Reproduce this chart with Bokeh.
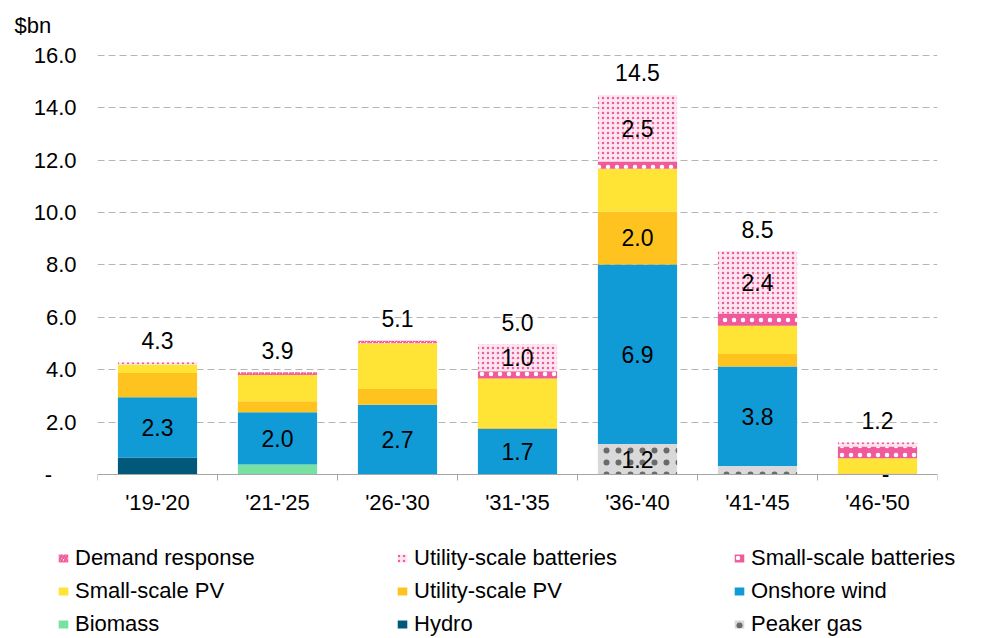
from bokeh.plotting import figure
from bokeh.layouts import column
from bokeh.models import (ColumnDataSource, Range1d, FixedTicker, LinearAxis, Legend,
                          LegendItem, PrintfTickFormatter, Grid)
from bokeh.core.properties import value
from bokeh.embed import file_html
from bokeh.resources import INLINE

# ---------------- data ----------------
categories = ["'19-'20", "'21-'25", "'26-'30", "'31-'35", "'36-'40", "'41-'45", "'46-'50"]
peaker_gas = [0, 0, 0, 0, 1.16, 0.32, 0]
hydro = [0.65, 0, 0, 0, 0, 0, 0]
biomass = [0, 0.38, 0, 0, 0, 0, 0]
onshore_wind = [2.3, 2.0, 2.66, 1.74, 6.86, 3.8, 0]
utility_pv = [0.92, 0.42, 0.6, 0.05, 2.02, 0.48, 0.05]
small_pv = [0.33, 1.0, 1.75, 1.87, 1.63, 1.08, 0.57]
small_batteries = [0, 0, 0, 0.28, 0.28, 0.47, 0.45]
utility_batteries = [0.08, 0, 0, 1.04, 2.54, 2.38, 0.15]
demand_response = [0, 0.1, 0.1, 0, 0, 0, 0]
y_ticks = [0, 2, 4, 6, 8, 10, 12, 14, 16]
y_label = "$bn"

# stacking order (bottom to top)
series = [
    ("Peaker gas", peaker_gas),
    ("Hydro", hydro),
    ("Biomass", biomass),
    ("Onshore wind", onshore_wind),
    ("Utility-scale PV", utility_pv),
    ("Small-scale PV", small_pv),
    ("Small-scale batteries", small_batteries),
    ("Utility-scale batteries", utility_batteries),
    ("Demand response", demand_response),
]
legend_columns = [
    ["Demand response", "Small-scale PV", "Biomass"],
    ["Utility-scale batteries", "Utility-scale PV", "Hydro"],
    ["Small-scale batteries", "Onshore wind", "Peaker gas"],
]
always_labelled = ["Onshore wind"]
labelled_if_large = ["Peaker gas", "Utility-scale PV", "Utility-scale batteries"]

# ---------------- styles / layout ----------------
FONT = "Liberation Sans"
W, H = 986, 638
LEFT, RIGHT, TOP = 97, 49, 47          # frame borders of the bar chart (px)
MAIN_H = 486                            # height of the bar chart figure
styles = {
    "Peaker gas": dict(fill_color="#d9d9d9", hatch_pattern="dot", hatch_color="#3a3a3a",
                       hatch_scale=12, hatch_weight=1, hatch_alpha=0.7),
    "Hydro": dict(fill_color="#02587a"),
    "Biomass": dict(fill_color="#76e1a1"),
    "Onshore wind": dict(fill_color="#109bd7"),
    "Utility-scale PV": dict(fill_color="#ffc320"),
    "Small-scale PV": dict(fill_color="#ffe335"),
    "Small-scale batteries": dict(fill_color="#f15a9a", hatch_pattern="dot", hatch_color="white",
                                  hatch_scale=9, hatch_weight=1),
    "Utility-scale batteries": dict(fill_color="#fde6f0", hatch_pattern="dot", hatch_color="#ee5c9c",
                                    hatch_scale=5, hatch_weight=1),
    "Demand response": dict(fill_color="white", hatch_pattern="right_diagonal_line",
                            hatch_color="#f15a9a", hatch_scale=6, hatch_weight=2.5),
}

n = len(categories)
xs = [i + 0.5 for i in range(n)]
pitch = (W - LEFT - RIGHT) / n

p = figure(width=W, height=MAIN_H, output_backend="svg", toolbar_location=None,
           x_range=Range1d(0, n), y_range=Range1d(-0.229, 16.3),
           x_axis_type=None, y_axis_type=None,
           min_border_left=LEFT, min_border_right=RIGHT, min_border_top=TOP, min_border_bottom=6)
p.frame_align = False
p.outline_line_color = None
p.background_fill_color = "white"
p.border_fill_color = "white"

# title "$bn"
p.title.text = y_label
p.title.text_font = FONT
p.title.text_font_size = "22px"
p.title.text_font_style = "normal"
p.title.text_color = "black"
p.title.align = "left"
p.title.offset = -83
p.title.standoff = 20

# grid
p.add_layout(Grid(dimension=1, ticker=FixedTicker(ticks=[t for t in y_ticks if t > 0]),
                  grid_line_color="#b5b5b5", grid_line_dash="7 4", grid_line_width=1))

# bars
sources = {}
cum = [0.0] * n
label_x, label_y, label_t, label_dx, label_dy = [], [], [], [], []
for name, vals in series:
    bottoms = list(cum)
    tops = [b + v for b, v in zip(bottoms, vals)]
    src = ColumnDataSource(dict(x=xs, bottom=bottoms, top=tops))
    sources[name] = src
    p.vbar(x="x", bottom="bottom", top="top", width=0.66, source=src,
           line_color=None, **styles[name])
    for i, v in enumerate(vals):
        if name in always_labelled or (name in labelled_if_large and v >= 1.0):
            label_x.append(xs[i])
            label_y.append((bottoms[i] + tops[i]) / 2)
            label_t.append(f"{v:.1f}" if v > 0 else "-")
            label_dx.append(0 if v > 0 else 8)
            label_dy.append(0 if v > 0 else -1)
    cum = tops

lsrc = ColumnDataSource(dict(x=label_x, y=label_y, text=label_t, dx=label_dx, dy=label_dy))
p.text(x="x", y="y", text="text", x_offset="dx", y_offset="dy", source=lsrc, text_align="center",
       text_baseline="middle", text_font=value(FONT), text_font_size="23px", text_color="black")

tsrc = ColumnDataSource(dict(x=xs, y=cum, text=[f"{t:.1f}" for t in cum]))
p.text(x="x", y="y", text="text", source=tsrc, text_align="center", y_offset=-22,
       text_baseline="middle", text_font=value(FONT), text_font_size="23px", text_color="black")

# x axis line with category boundary ticks at value 0
xaxis = LinearAxis(ticker=FixedTicker(ticks=[], minor_ticks=list(range(n + 1))),
                   fixed_location=0)
xaxis.axis_line_color = "#a6a6a6"
xaxis.axis_line_width = 1
xaxis.major_tick_out = 0
xaxis.major_tick_in = 0
xaxis.minor_tick_out = 9
xaxis.minor_tick_in = 0
xaxis.minor_tick_line_color = "#a6a6a6"
xaxis.major_label_standoff = 0
p.add_layout(xaxis, "below")

yaxis = LinearAxis(ticker=FixedTicker(ticks=y_ticks),
                   formatter=PrintfTickFormatter(format="%.1f"),
                   major_label_overrides={0: "-\u00a0\u00a0\u00a0\u00a0"})
yaxis.axis_line_color = None
yaxis.major_tick_line_color = None
yaxis.minor_tick_line_color = None
yaxis.major_tick_out = 0
yaxis.major_tick_in = 0
yaxis.major_label_standoff = 21
yaxis.major_label_text_font = FONT
yaxis.major_label_text_font_size = "22px"
yaxis.major_label_text_color = "black"
p.add_layout(yaxis, "left")

# ---------------- category labels + legend strip ----------------
lg = figure(width=W, height=H - MAIN_H, output_backend="svg", toolbar_location=None,
            x_range=Range1d(-LEFT / pitch, (W - LEFT) / pitch), y_range=Range1d(100, 101),
            x_axis_type=None, y_axis_type=None,
            min_border_left=0, min_border_right=0, min_border_top=0, min_border_bottom=0)
lg.frame_align = False
lg.outline_line_color = None
lg.background_fill_color = "white"
lg.border_fill_color = "white"

cat_axis = LinearAxis(ticker=FixedTicker(ticks=xs),
                      major_label_overrides={x: c for x, c in zip(xs, categories)})
cat_axis.axis_line_color = None
cat_axis.major_tick_line_color = None
cat_axis.minor_tick_line_color = None
cat_axis.major_tick_out = 0
cat_axis.major_tick_in = 0
cat_axis.major_label_standoff = 0
cat_axis.major_label_text_font = FONT
cat_axis.major_label_text_font_size = "22px"
cat_axis.major_label_text_color = "black"
lg.add_layout(cat_axis, "above")

# legend swatches reuse the bar data (outside this strip's visible y range)
swatches = {}
for name, _ in series:
    swatches[name] = lg.vbar(x="x", bottom="bottom", top="top", width=0.66,
                             source=sources[name], line_color=None, **styles[name])

col_x = [57, 396, 733]
for cx, names in zip(col_x, legend_columns):
    leg = Legend(items=[LegendItem(label=nm, renderers=[swatches[nm]]) for nm in names],
                 location=(cx, 1), orientation="vertical",
                 glyph_width=12, glyph_height=10, label_standoff=6, spacing=7,
                 padding=0, margin=0, border_line_color=None, background_fill_alpha=0,
                 label_text_font=FONT, label_text_font_size="22px", label_text_color="black")
    lg.add_layout(leg, "center")

open("out.html", "w").write(file_html(column(p, lg, spacing=0), INLINE))
